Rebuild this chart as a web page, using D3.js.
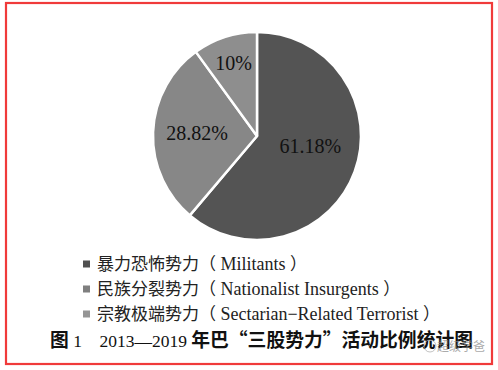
<!DOCTYPE html>
<html>
<head>
<meta charset="utf-8">
<script src="https://cdn.jsdelivr.net/npm/d3@7"></script>
<style>
  body { margin: 0; background: #fff; }
</style>
</head>
<body>
<div id="chart"></div>
<script>
// data
var categories = ['暴力恐怖势力（ Militants ）', '民族分裂势力（ Nationalist Insurgents ）', '宗教极端势力（ Sectarian−Related Terrorist ）'];
var shares = [61.18, 28.82, 10];
var shareLabels = ['61.18%', '28.82%', '10%'];
var caption = '图 1\u00a0\u00a0\u00a0\u00a02013—2019 年巴“三股势力”活动比例统计图';

var serif = "'Liberation Serif', 'Times New Roman', 'DejaVu Serif', serif";
var cjkFont = "'Noto Sans CJK SC', sans-serif";

var width = 498, height = 370;
var cx = 257, cy = 136, radius = 104;
var colors = ['#545454', '#878787', '#8e8e8e'];
var legendColors = ['#505050', '#7f7f7f', '#959595'];
// small nudges so the labels sit where the original put them
var labelNudge = [[-3, -11], [0, -1], [-5, -16]];

// cut a string into CJK / latin runs so each gets its own font
var cjkRe = /[\u3000-\u9fff\uff00-\uffef“”]+|[^\u3000-\u9fff\uff00-\uffef“”]+/g;
function runs(s) {
    var first = true;
    return s.match(cjkRe).map(function(t) {
        var isCjk = /[\u3000-\u9fff\uff00-\uffef“”]/.test(t) || (first && t.trim() === '');
        first = false;
        return {t: t, cjk: isCjk};
    });
}

var svg = d3.select('#chart')
            .append('svg')
            .attr('width', width)
            .attr('height', height);

svg.append('rect')
    .attr('x', 6).attr('y', 3)
    .attr('width', 486).attr('height', 361)
    .attr('fill', '#fff')
    .attr('stroke', '#f03a3a')
    .attr('stroke-width', 2.2);

var pie = d3.pie().sort(null).value(d => d);
var arcs = pie(shares);
var arc = d3.arc().innerRadius(0).outerRadius(radius);
var labelArc = d3.arc().innerRadius(60).outerRadius(60);

var g = svg.append('g').attr('transform', `translate(${cx},${cy})`);

g.selectAll('path')
    .data(arcs)
    .enter()
    .append('path')
    .attr('d', arc)
    .attr('fill', (d, i) => colors[i])
    .attr('stroke', '#fff')
    .attr('stroke-width', 2.5)
    .attr('stroke-linejoin', 'round');

g.selectAll('text.pct')
    .data(arcs)
    .enter()
    .append('text')
    .attr('class', 'pct')
    .attr('x', (d, i) => labelArc.centroid(d)[0] + labelNudge[i][0])
    .attr('y', (d, i) => labelArc.centroid(d)[1] + labelNudge[i][1])
    .attr('dy', '0.35em')
    .attr('text-anchor', 'middle')
    .attr('font-family', serif)
    .style('font-size', '20px')
    .style('fill', '#111')
    .text((d, i) => shareLabels[i]);

// legend
var legendY = d3.scalePoint().domain(d3.range(categories.length)).range([264, 314]);

var legend = svg.selectAll('g.legend')
    .data(categories)
    .enter()
    .append('g')
    .attr('class', 'legend')
    .attr('transform', (d, i) => `translate(83, ${legendY(i)})`);

legend.append('rect')
    .attr('x', 0).attr('y', -3.5)
    .attr('width', 7).attr('height', 7)
    .attr('fill', (d, i) => legendColors[i]);

legend.append('text')
    .attr('x', 14)
    .attr('dy', '0.36em')
    .style('fill', '#222')
    .selectAll('tspan')
    .data(d => runs(d))
    .enter()
    .append('tspan')
    .attr('font-family', r => r.cjk ? cjkFont : serif)
    .style('font-size', r => r.cjk ? '17px' : '18px')
    .text(r => r.t);

svg.append('text')
    .attr('x', 50)
    .attr('y', 347)
    .style('fill', '#111')
    .selectAll('tspan')
    .data(runs(caption))
    .enter()
    .append('tspan')
    .attr('font-family', r => r.cjk ? cjkFont : serif)
    .attr('font-weight', r => r.cjk ? 'bold' : 'normal')
    .style('font-size', r => r.cjk ? '18.8px' : '17.5px')
    .text(r => r.t);

// watermark
svg.append('circle')
    .attr('cx', 430).attr('cy', 346).attr('r', 6)
    .attr('fill', 'none')
    .attr('stroke', '#999')
    .attr('stroke-width', 1)
    .attr('opacity', 0.6);
svg.append('text')
    .attr('x', 437)
    .attr('y', 351)
    .attr('font-family', cjkFont)
    .style('font-size', '12px')
    .style('fill', '#888')
    .style('opacity', 0.7)
    .text('超级学爸');
</script>
</body>
</html>
